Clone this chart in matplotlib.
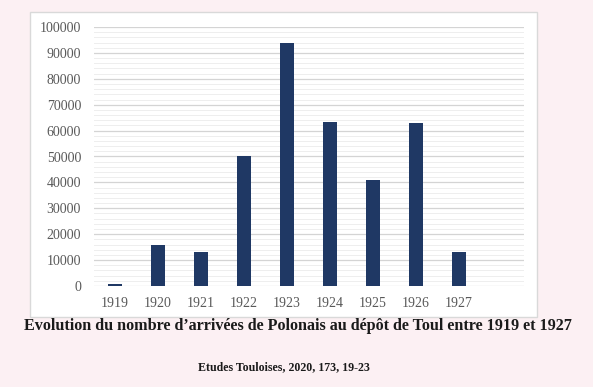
import matplotlib
matplotlib.use("Agg")
import matplotlib.pyplot as plt
from matplotlib.patches import Rectangle
from matplotlib.ticker import MultipleLocator

years = ["1919", "1920", "1921", "1922", "1923", "1924", "1925", "1926", "1927"]
arrivals = [800, 16000, 13000, 50000, 94000, 63500, 41000, 63000, 13000]
y_ticks = [0, 10000, 20000, 30000, 40000, 50000, 60000, 70000, 80000, 90000, 100000]
title = "Evolution du nombre d\u2019arrivées de Polonais au dépôt de Toul entre 1919 et 1927"
source = "Etudes Touloises, 2020, 173, 19-23"

W, H = 593, 387
fig = plt.figure(figsize=(W / 100, H / 100), dpi=100)
fig.patch.set_facecolor("#fcf0f3")

# white chart box
bx0, bx1, by0, by1 = 30, 537, 12, 317
fig.add_artist(Rectangle((bx0 / W, 1 - by1 / H), (bx1 - bx0) / W, (by1 - by0) / H,
                         transform=fig.transFigure, facecolor="white",
                         edgecolor="#d9d9d9", linewidth=1.0, zorder=0))

ax = fig.add_axes([93.5 / W, 1 - 286 / H, 430 / W, 259 / H])
ax.set_facecolor("none")
x = list(range(len(years)))
ax.bar(x, arrivals, width=0.33, color="#1f3864", zorder=3)
ax.set_xticks(x)
ax.set_xticklabels(years)
ax.set_yticks(y_ticks)
ax.set_yticklabels([str(v) for v in y_ticks])
ax.yaxis.set_minor_locator(MultipleLocator(2000))
ax.set_xlim(-0.5, 9.5)
ax.set_ylim(0, 100000)
ax.grid(axis="y", which="major", color="#d4d4d4", linewidth=0.9, zorder=1)
ax.grid(axis="y", which="minor", color="#eeeeee", linewidth=0.7, zorder=1)
for s in ax.spines.values():
    s.set_visible(False)
ax.tick_params(axis="both", which="both", length=0, colors="#595959",
               labelsize=10)
ax.tick_params(axis="y", pad=9)
ax.tick_params(axis="x", pad=8)
for lab in ax.get_xticklabels() + ax.get_yticklabels():
    lab.set_fontfamily("Liberation Serif")

fig.text(297.5 / W, 1 - 326 / H, title, ha="center", va="center",
         fontfamily="Liberation Serif", fontweight="bold", fontsize=11.6,
         color="#1a1a1a")
fig.text(284 / W, 1 - 367 / H, source, ha="center", va="center",
         fontfamily="Liberation Serif", fontweight="bold", fontsize=8.6,
         color="#1a1a1a")

fig.savefig("out.png", dpi=100, facecolor=fig.get_facecolor())
